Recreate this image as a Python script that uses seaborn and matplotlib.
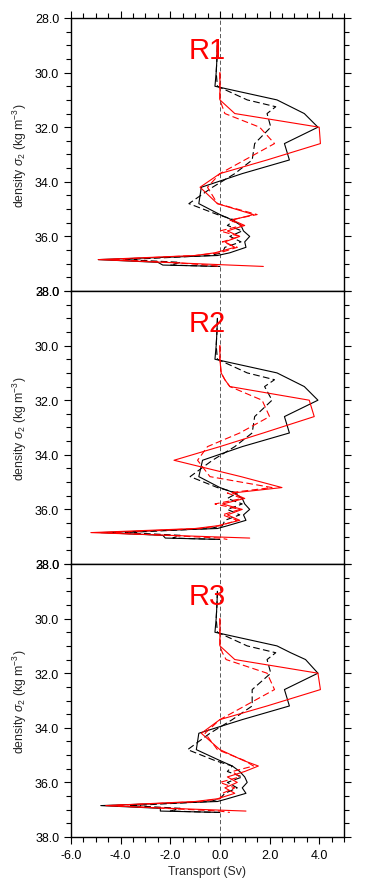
import matplotlib
matplotlib.use("Agg")
import matplotlib.pyplot as plt
from matplotlib.ticker import MultipleLocator, FixedLocator, FixedFormatter
import numpy as np
import pandas as pd
import seaborn as sns

# density levels (sigma_2) shared by all profiles
dens = [29.0, 29.5, 30.0, 30.5, 31.0, 31.25, 31.5, 32.0, 32.6, 33.2, 33.7, 34.2, 34.8,
        35.2, 35.4, 35.6, 35.8, 36.0, 36.2, 36.4, 36.6, 36.7, 36.85, 36.95, 37.05, 37.1]
nan = np.nan

# R1
blk_r1 = [-0.1, -0.12, -0.15, -0.2, 2.3, 2.85, 3.4, 3.95, 2.6, 2.8, 0.9, -0.75, -0.85,
          0.0, 0.5, 0.85, 0.95, 1.2, 1.0, 1.05, 0.4, -0.1, -4.9, -2.5, -2.3, 0.0]
blkd_r1 = [-0.1, -0.12, -0.15, -0.1, 1.1, 2.25, 1.9, 2.05, 1.4, 1.3, 0.6, -0.3, -1.25,
           -0.1, 0.6, 0.3, 0.9, 0.4, 0.85, 0.2, 0.1, -0.4, -3.8, -1.6, -2.0, 0.0]
red_r1 = [nan, nan, 0.0, 0.0, 0.0, 0.3, 0.6, 4.0, 4.05, 1.9, 0.0, -0.8, -0.1,
          1.35, 0.5, 1.0, 0.3, 0.8, 0.2, 0.6, -0.2, -1.0, -4.9, -2.25, 0.4, 1.75]
redd_r1 = [nan, nan, 0.0, 0.0, 0.0, 0.1, 0.2, 1.6, 2.2, 1.0, 0.0, -0.5, -0.1,
           1.5, 0.4, 0.9, 0.0, 0.8, 0.1, 0.7, 0.0, -1.0, -4.4, -2.0, -0.5, 0.0]

# R2
blk_r2 = [-0.1, -0.12, -0.15, -0.2, 2.3, 2.85, 3.4, 3.95, 2.6, 2.8, 0.9, -0.7, -0.85,
          0.0, 0.6, 0.9, 1.0, 1.2, 0.95, 1.05, 0.3, -0.1, -4.8, -2.3, -2.2, 0.0]
blkd_r2 = [-0.1, -0.12, -0.15, -0.1, 1.1, 2.2, 1.8, 2.1, 1.4, 1.3, 0.6, -0.3, -1.2,
           -0.1, 0.7, 0.3, 0.9, 0.3, 0.8, 0.2, 0.1, -0.4, -3.8, -1.6, -1.9, 0.0]
red_r2 = [nan, nan, 0.0, 0.0, 0.05, 0.2, 0.4, 3.6, 3.8, 1.75, 0.0, -1.85, 0.85,
          2.5, 0.5, 1.0, 0.1, 0.9, 0.3, 0.8, -0.1, -1.0, -5.2, -2.0, 1.2, nan]
redd_r2 = [nan, nan, 0.0, 0.0, 0.05, 0.2, 0.4, 1.7, 2.0, 0.8, -0.5, -0.9, -0.4,
           2.1, 0.3, 0.9, -0.2, 0.8, 0.1, 0.7, 0.0, -0.8, -4.5, -2.2, 0.0, 0.3]

# R3
blk_r3 = [-0.1, -0.12, -0.15, -0.2, 2.3, 2.85, 3.45, 3.95, 2.6, 2.8, 0.9, -0.85, -0.95,
          0.0, 0.5, 0.8, 1.0, 1.1, 0.9, 1.05, 0.3, -0.1, -4.8, -2.4, -2.4, 0.0]
blkd_r3 = [-0.1, -0.12, -0.15, -0.1, 1.1, 2.25, 1.9, 2.05, 1.3, 1.3, 0.5, -0.4, -1.3,
           -0.2, 0.5, 0.3, 0.9, 0.3, 0.7, 0.2, 0.0, -0.4, -3.6, -1.6, -2.0, 0.0]
red_r3 = [nan, nan, 0.0, 0.0, 0.0, 0.3, 0.6, 3.95, 4.05, 1.9, 0.0, -0.75, 0.0,
          0.95, 1.55, 1.0, 0.3, 0.7, 0.2, 0.6, -0.1, -1.0, -4.6, -2.0, 1.05, nan]
redd_r3 = [nan, nan, 0.0, 0.0, 0.0, 0.1, 0.25, 1.9, 2.2, 1.0, 0.0, -0.6, -0.1,
           1.0, 1.35, 0.5, 0.8, 0.0, 0.6, 0.1, 0.0, -0.8, -4.4, -2.2, 0.0, 0.4]

regions = ["R1", "R2", "R3"]
profiles = [
    (blk_r1, blkd_r1, red_r1, redd_r1),
    (blk_r2, blkd_r2, red_r2, redd_r2),
    (blk_r3, blkd_r3, red_r3, redd_r3),
]

xticks = [-6.0, -4.0, -2.0, 0.0, 2.0, 4.0]
yticks = [28.0, 30.0, 32.0, 34.0, 36.0, 38.0]

sns.set_style("ticks")
plt.rcParams["font.family"] = ["Liberation Sans", "DejaVu Sans"]
plt.rcParams["mathtext.fontset"] = "custom"
plt.rcParams["mathtext.rm"] = "Liberation Sans"
plt.rcParams["mathtext.it"] = "Liberation Sans:italic"
plt.rcParams["axes.unicode_minus"] = False

W, H = 365, 895
fig = plt.figure(figsize=(W / 100, H / 100), dpi=100)

for i, (name, prof) in enumerate(zip(regions, profiles)):
    top = 19 + 273 * i
    ax = fig.add_axes([71 / W, 1 - (top + 273) / H, 273 / W, 273 / H])

    df = pd.DataFrame({
        "density": dens * 4,
        "transport": list(prof[0]) + list(prof[1]) + list(prof[2]) + list(prof[3]),
        "colour": ["black"] * (2 * len(dens)) + ["red"] * (2 * len(dens)),
        "kind": (["solid"] * len(dens) + ["dashed"] * len(dens)) * 2,
    })

    ax.axvline(0, color="0.25", lw=0.6, ls=(0, (5, 3)), zorder=1)
    sns.lineplot(data=df, x="transport", y="density", hue="colour", style="kind",
                 hue_order=["black", "red"], style_order=["solid", "dashed"],
                 palette={"black": "black", "red": "red"},
                 dashes={"solid": "", "dashed": (6, 3)},
                 orient="y", estimator=None, errorbar=None, lw=0.8,
                 legend=False, ax=ax)

    ax.set_xlim(-6, 5)
    ax.set_ylim(38, 28)

    ax.yaxis.set_major_locator(FixedLocator(yticks))
    ax.yaxis.set_major_formatter(FixedFormatter([f"{v:.1f}" for v in yticks]))
    ax.yaxis.set_minor_locator(MultipleLocator(0.5))
    ax.xaxis.set_major_locator(FixedLocator(xticks))
    ax.xaxis.set_major_formatter(FixedFormatter([f"{v:.1f}" for v in xticks]))
    ax.xaxis.set_minor_locator(MultipleLocator(0.5))

    ax.tick_params(which="both", direction="out", colors="black", width=0.8,
                   left=True, right=True, top=(i == 0), bottom=(i == 2),
                   labelbottom=(i == 2), labeltop=False, labelsize=9)
    ax.tick_params(which="major", length=5)
    ax.tick_params(which="minor", length=3.5)
    for sp in ax.spines.values():
        sp.set_visible(True)
        sp.set_color("black")
        sp.set_linewidth(1.0)

    ax.set_ylabel(r"density $\sigma_2$ (kg m$^{-3}$)", fontsize=8.8, labelpad=4)
    if i == 2:
        ax.set_xlabel("Transport (Sv)", fontsize=8.8, labelpad=3)
    else:
        ax.set_xlabel("")

    ax.text(0.5, 0.853, name, transform=ax.transAxes, color="red", fontsize=21,
            family=["Liberation Sans Narrow", "Liberation Sans"],
            ha="center", va="baseline")

fig.savefig("out.png", dpi=100)
